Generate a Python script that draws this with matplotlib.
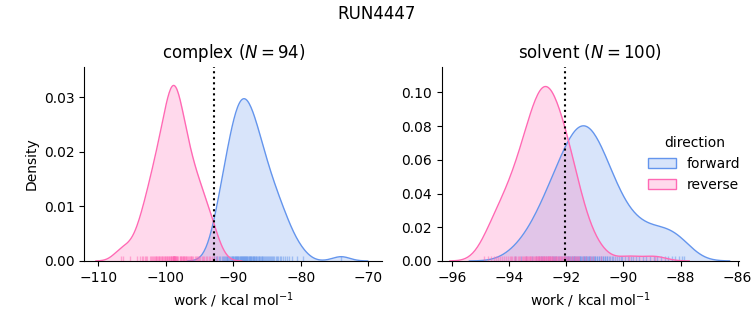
import numpy as np
import matplotlib
matplotlib.use("Agg")
import matplotlib.pyplot as plt
import seaborn as sns
from matplotlib.patches import Patch

# work values (kcal/mol)
complex_forward = [
    -92.8, -92.55, -92.35, -92.15,
    -91.9, -91.7, -91.55, -91.4, -91.25, -91.1,
    -90.95, -90.85, -90.7, -90.6, -90.5, -90.35, -90.25, -90.15, -90.05,
    -89.97, -89.9, -89.8, -89.72, -89.65, -89.55, -89.47, -89.4, -89.3, -89.22, -89.13, -89.05,
    -88.97, -88.9, -88.82, -88.75, -88.68, -88.6, -88.52, -88.45, -88.37, -88.3, -88.22, -88.14, -88.06,
    -87.97, -87.9, -87.8, -87.72, -87.65, -87.55, -87.47, -87.4, -87.3, -87.22, -87.13, -87.05,
    -86.95, -86.85, -86.75, -86.65, -86.55, -86.45, -86.35, -86.25, -86.15, -86.05,
    -85.95, -85.8, -85.7, -85.55, -85.45, -85.3, -85.2, -85.05,
    -84.9, -84.75, -84.55, -84.4, -84.25, -84.1,
    -83.9, -83.7, -83.5, -83.3, -83.1,
    -82.85, -82.6, -82.35, -82.1,
    -81.7, -81.3, -80.6, -79.7,
    -74.0,
]
complex_reverse = [
    -106.7, -106.4, -105.3, -104.2,
    -103.8, -103.55, -103.3, -103.1,
    -102.9, -102.75, -102.4, -102.2, -102.05,
    -101.92, -101.8, -101.65, -101.52, -101.4, -101.28, -101.15, -101.04,
    -100.95, -100.84, -100.73, -100.62, -100.51, -100.4, -100.29, -100.18, -100.07,
    -99.95, -99.85, -99.75, -99.65, -99.55, -99.45, -99.35, -99.25, -99.2, -99.15, -99.05,
    -98.98, -98.95, -98.91, -98.88, -98.85, -98.81, -98.78, -98.76, -98.74,
    -98.7, -98.65, -98.6, -98.54, -98.47, -98.38, -98.27, -98.12,
    -97.96, -97.87, -97.78, -97.69, -97.6, -97.5, -97.41, -97.32, -97.23, -97.14, -97.05,
    -96.95, -96.8, -96.7, -96.55, -96.45, -96.3, -96.2, -96.05,
    -95.9, -95.7, -95.55, -95.4, -95.25, -95.1,
    -94.9, -94.7, -94.5, -94.3, -94.1,
    -93.9, -93.65, -93.4, -93.15,
    -92.8, -92.4,
]
solvent_forward = [
    -93.8, -93.6,
    -93.4, -93.22, -93.05,
    -92.97, -92.9, -92.84, -92.78, -92.71, -92.65, -92.58, -92.52,
    -92.48, -92.44, -92.39, -92.35, -92.3, -92.25, -92.2, -92.15, -92.1, -92.06, -92.02,
    -91.99, -91.96, -91.93, -91.9, -91.87, -91.84, -91.81, -91.78, -91.75, -91.72,
    -91.69, -91.66, -91.63, -91.6, -91.57, -91.54, -91.51,
    -91.49, -91.46, -91.43, -91.4, -91.37, -91.34, -91.31, -91.3, -91.28, -91.25, -91.22,
    -91.19, -91.16, -91.13, -91.1, -91.07, -91.04, -91.01,
    -90.98, -90.94, -90.91, -90.87, -90.84, -90.8, -90.77, -90.73, -90.7, -90.66,
    -90.63, -90.59, -90.56, -90.52,
    -90.47, -90.41, -90.35, -90.28, -90.22, -90.16, -90.1, -90.04,
    -89.95, -89.85, -89.75, -89.65, -89.55,
    -89.44, -89.32, -89.2, -89.07,
    -88.94, -88.82, -88.69, -88.56,
    -88.44, -88.31, -88.19, -88.06,
    -87.95, -87.88,
]
solvent_reverse = [
    -94.88, -94.76, -94.64, -94.53,
    -94.46, -94.39, -94.32, -94.25, -94.18, -94.11, -94.04,
    -93.98, -93.93, -93.89, -93.84, -93.8, -93.75, -93.71, -93.66, -93.61, -93.57, -93.52,
    -93.49, -93.46, -93.43, -93.4, -93.37, -93.34, -93.32, -93.29, -93.26, -93.23,
    -93.2, -93.17, -93.14, -93.11, -93.08, -93.05, -93.02,
    -92.99, -92.98, -92.97, -92.95, -92.92, -92.9, -92.88, -92.86, -92.83, -92.81, -92.79, -92.77,
    -92.74, -92.72, -92.7, -92.68, -92.65, -92.63, -92.61, -92.6, -92.59, -92.56, -92.54, -92.52,
    -92.49, -92.46, -92.43, -92.41, -92.38, -92.35, -92.32, -92.29, -92.27,
    -92.24, -92.21, -92.18, -92.15, -92.13, -92.1, -92.07, -92.04, -92.01,
    -91.98, -91.94, -91.9, -91.86, -91.82, -91.79, -91.75, -91.71, -91.67, -91.63,
    -91.59, -91.56,
    -91.42, -91.3, -91.18, -91.06,
    -90.8, -89.8, -88.9,
]
dg_complex = -92.9
dg_solvent = -92.06

phases = ["complex", "solvent"]
directions = ["forward", "reverse"]
colors = {"forward": "cornflowerblue", "reverse": "hotpink"}
data = {
    ("complex", "forward"): complex_forward,
    ("complex", "reverse"): complex_reverse,
    ("solvent", "forward"): solvent_forward,
    ("solvent", "reverse"): solvent_reverse,
}
dg = {"complex": dg_complex, "solvent": dg_solvent}
n_total = sum(len(v) for v in data.values())


def kde(x):  # gaussian kde, scott bandwidth, like seaborn (cut=3, gridsize=200)
    x = np.asarray(x)
    bw = np.std(x, ddof=1) * len(x) ** (-0.2)
    grid = np.linspace(x.min() - 3 * bw, x.max() + 3 * bw, 200)
    d = np.exp(-0.5 * ((grid[:, None] - x[None, :]) / bw) ** 2).sum(1)
    d = d / (len(x) * bw * np.sqrt(2 * np.pi))
    return grid, d * len(x) / n_total  # common norm over all facets


fig = plt.figure(figsize=(7.53, 3.25), dpi=100)
axes = [fig.add_axes([0.112, 0.197, 0.3957, 0.598]),
        fig.add_axes([0.5866, 0.197, 0.3948, 0.598])]
xlims = [(-112.07, -67.9), (-96.37, -85.95)]
ylims = [(0, 0.0356), (0, 0.1153)]

for ax, phase, xl, yl in zip(axes, phases, xlims, ylims):
    for d in directions:
        vals = data[(phase, d)]
        g, dens = kde(vals)
        ax.fill_between(g, dens, color=colors[d], alpha=0.25, lw=0)
        ax.plot(g, dens, color=colors[d], lw=1)
        sns.rugplot(x=vals, ax=ax, color=colors[d], alpha=0.5, height=0.025, lw=0.8)
    ax.axvline(dg[phase], color="k", ls=":", lw=1.5)
    n = len(data[(phase, "forward")])
    ax.set_title(f"{phase} ($N = {n}$)", fontsize=12)
    ax.set_xlabel("work / kcal mol$^{-1}$")
    ax.set_xlim(*xl)
    ax.set_ylim(*yl)
    ax.spines["top"].set_visible(False)
    ax.spines["right"].set_visible(False)

axes[0].set_ylabel("Density")
axes[0].set_yticks([0, 0.01, 0.02, 0.03])
axes[1].set_yticks([0, 0.02, 0.04, 0.06, 0.08, 0.10])

handles = [Patch(facecolor=matplotlib.colors.to_rgba(colors[d], 0.25), edgecolor=colors[d], label=d)
           for d in directions]
fig.legend(handles=handles, title="direction", loc="center", bbox_to_anchor=(0.922, 0.495),
           frameon=False, fontsize=10, title_fontsize=10)
fig.suptitle("RUN4447", fontsize=12, y=0.985)

fig.savefig("out.png", dpi=100)
